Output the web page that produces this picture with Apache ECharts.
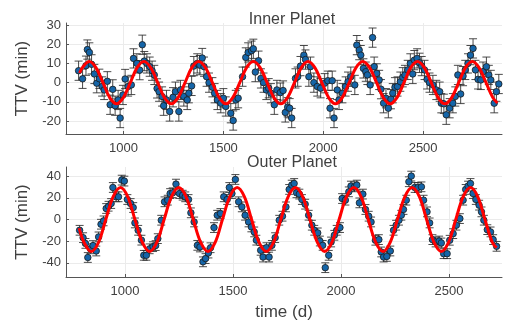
<!DOCTYPE html>
<html>
<head>
<meta charset="utf-8">
<script src="https://cdn.jsdelivr.net/npm/echarts@6/dist/echarts.min.js"></script>
<style>
  html, body {margin: 0; padding: 0; background: #fff;}
  #chart {width: 505px; height: 323px;}
</style>
</head>
<body>
<div id="chart"></div>
<script>
// observed transit timing variations, [time (d), TTV (min)]
const innerPoints = [
  [775,6.2],[795,2],[812,8.8],[819,17.2],[829,15.7],[840,9.5],[854,4.5],[866,-0.3],[879,2],[893,-2],
  [903,-3.8],[919,0.7],[933,-11.5],[946,-3.5],[958,-12],[973,-9],[983,-18.4],[997,-6.4],[1008,1.9],[1023,-2],
  [1039,-1.2],[1050,12.6],[1067,10],[1081,6.5],[1094,19.7],[1104,11.2],[1117,10],[1131,8.3],[1143,6.2],[1154,4],
  [1168,-3],[1178,-4.7],[1193,-7.2],[1201,-12],[1215,-9],[1231,-15],[1248,-7.6],[1260,-4.7],[1277,-15],[1285,-3.8],
  [1302,-7.2],[1319,-9],[1327,-5.5],[1341,-1.7],[1352,8.6],[1369,10],[1382,9.1],[1394,12.8],[1403,8.3],[1416,3.1],
  [1428,0],[1445,-2.4],[1456,-5.5],[1470,-9],[1487,-10.7],[1500,-8.1],[1512,-12.4],[1537,-15.9],[1549,-19.7],[1562,-9],
  [1574,-8.1],[1596,3.1],[1612,13.1],[1624,15.7],[1641,16.6],[1650,17.6],[1660,5.5],[1676,11.4],[1688,2.2],[1701,0],
  [1715,-3.8],[1727,-2.9],[1738,-5.5],[1755,-11.5],[1768,-3.8],[1785,-5.2],[1799,-4.1],[1810,-15.5],[1822,-12.8],[1832,-13.3],
  [1842,-18.4],[1861,2.2],[1872,3.1],[1886,8.6],[1903,14.3],[1911,12],[1928,3.1],[1936,8.3],[1953,0],[1970,-2],
  [1987,-2.9],[2007,-0.3],[2023,1],[2034,-13.3],[2045,1],[2054,-18.4],[2070,-3.8],[2079,-9],[2096,-5.5],[2112,-2],
  [2124,0.5],[2138,3.1],[2158,-1.2],[2168,19.5],[2180,16.9],[2188,14.3],[2201,7.4],[2213,5.7],[2221,4],[2235,-1.2],
  [2247,23.4],[2255,8.3],[2268,4.8],[2280,1.4],[2289,-3.4],[2302,-10.7],[2314,-8.1],[2326,-13.3],[2339,-8.6],[2348,-5.5],
  [2359,-2.4],[2372,-2],[2386,0.5],[2398,2.8],[2409,4],[2423,6.6],[2436,10],[2448,4.5],[2456,11.7],[2470,12.6],
  [2482,10.3],[2493,8.6],[2507,6.6],[2520,1.7],[2532,0],[2549,-1.2],[2566,-3.8],[2583,-4.7],[2591,-10.7],[2604,-11],
  [2616,-16.7],[2633,-13.3],[2649,-10.7],[2661,-7.2],[2674,4],[2688,-5.9],[2700,3.4],[2711,6.6],[2725,10],[2737,14.3],
  [2750,17.8],[2762,6.6],[2775,1.7],[2789,1.4],[2800,5.7],[2817,8.3],[2829,4],[2839,1.4],[2856,-10.7],[2867,-4.7],
  [2879,-0.7]
];
const innerErr = 5;

const outerPoints = [
  [790,-9.9],[806,-16.7],[817,-22],[828,-35],[840,-27],[852,-24],[867,-29],[878,-16],[889,-4.3],[901,-1.2],
  [913,10.2],[924,12.3],[936,14.8],[944,29.6],[959,21],[970,21],[985,36.4],[997,35.5],[1011,18.5],[1026,14.8],
  [1038,11.1],[1046,-3.1],[1061,-9.9],[1076,-19],[1087,-33],[1099,-33],[1114,-27],[1130,-25],[1142,-24],[1152,-17.6],
  [1168,-0.6],[1183,16.4],[1198,17.9],[1209,24],[1221,24.7],[1236,32.7],[1252,24],[1267,22.5],[1279,21],[1294,18.5],
  [1305,6.2],[1320,-2.2],[1335,-23.8],[1347,-25.3],[1361,-39],[1373,-36],[1386,-30.9],[1396,-26],[1412,-7.4],[1427,4],
  [1442,5.6],[1457,21],[1473,18.5],[1483,29.6],[1495,24],[1511,37],[1526,16.4],[1541,11.7],[1556,4],[1572,-2.2],
  [1585,-6.8],[1598,-11.4],[1608,-19],[1628,-28.4],[1639,-34.6],[1655,-25.9],[1667,-34.6],[1680,-23.8],[1695,-16.7],[1714,-0.6],
  [1729,3.1],[1745,11.7],[1760,27.8],[1772,31.8],[1783,33.3],[1794,24.7],[1807,23.5],[1819,18.5],[1834,14.2],[1850,4],
  [1865,-5.2],[1876,-9.9],[1892,-12.3],[1902,-19.8],[1915,-23.8],[1927,-44.4],[1943,-33],[1954,-20.7],[1969,-14.5],[1980,-9.9],
  [1995,-7.4],[2005,19.4],[2020,17.9],[2036,25.6],[2046,30.9],[2062,30.2],[2073,31.8],[2085,15.4],[2101,23.5],[2113,9.3],
  [2128,3.1],[2139,-2.2],[2159,-19.1],[2175,-18.5],[2186,-29.9],[2197,-34.6],[2212,-34],[2228,-29],[2243,-9.9],[2255,-5.2],
  [2268,-0.6],[2279,4],[2289,9.3],[2302,17.9],[2314,34.9],[2325,40.1],[2341,29.6],[2356,29.6],[2372,30.2],[2382,17.9],
  [2398,7.1],[2410,-3.1],[2423,-18.5],[2438,-20.7],[2454,-19.8],[2464,-21.6],[2475,-31.5],[2491,-31.5],[2503,-19.1],[2519,-13],
  [2534,-5.2],[2550,0.9],[2565,17.9],[2577,27.8],[2588,30.9],[2599,33.3],[2611,24],[2624,18.5],[2639,13.3],[2650,7.1],
  [2661,-0.6],[2677,-9.3],[2692,-11.4],[2704,-18.5],[2720,-24.7]
];
const outerErr = 4.5;

// best-fit curves
const innerFit = [
  [780,5],[794,7.8],[828,11],[862,7.8],[897,0],[931,-7.8],[965,-11],[999,-7.8],[1034,0],[1068,7.8],
  [1102,11],[1136,7.8],[1171,0],[1205,-7.8],[1239,-11],[1273,-7.8],[1308,0],[1342,7.8],[1376,11],[1410,7.8],
  [1445,0],[1479,-7.8],[1513,-11],[1547,-7.8],[1582,0],[1616,7.8],[1650,11],[1684,7.8],[1719,0],[1753,-7.8],
  [1787,-11],[1821,-7.8],[1856,0],[1890,7.8],[1924,11],[1958,7.8],[1993,0],[2027,-7.8],[2061,-11],[2095,-7.8],
  [2130,0],[2164,7.8],[2198,11],[2232,7.8],[2267,0],[2301,-7.8],[2335,-11],[2369,-7.8],[2404,0],[2438,7.8],
  [2472,11],[2506,7.8],[2541,0],[2575,-7.8],[2609,-11],[2643,-7.8],[2678,0],[2712,7.8],[2746,11],[2780,7.8],
  [2815,0],[2849,-7.8],[2872,-10.6]
];
const outerFit = [
  [788,-8],[810,-20.9],[844,-29.5],[878,-20.9],[911,0],[945,20.9],[979,29.5],[1013,20.9],[1046,0],[1080,-20.9],
  [1114,-29.5],[1148,-20.9],[1181,0],[1215,20.9],[1249,29.5],[1283,20.9],[1316,0],[1350,-20.9],[1384,-29.5],[1418,-20.9],
  [1451,0],[1485,20.9],[1519,29.5],[1553,20.9],[1586,0],[1620,-20.9],[1654,-29.5],[1688,-20.9],[1721,0],[1755,20.9],
  [1789,29.5],[1823,20.9],[1856,0],[1890,-20.9],[1924,-29.5],[1958,-20.9],[1991,0],[2025,20.9],[2059,29.5],[2093,20.9],
  [2126,0],[2160,-20.9],[2194,-29.5],[2228,-20.9],[2261,0],[2295,20.9],[2329,29.5],[2363,20.9],[2396,0],[2430,-20.9],
  [2464,-29.5],[2498,-20.9],[2531,0],[2565,20.9],[2599,29.5],[2633,20.9],[2666,0],[2700,-20.9],[2720,-26]
];

const timeTicks = [1000, 1500, 2000, 2500];
const innerTicks = [-20, -10, 0, 10, 20, 30];
const outerTicks = [-40, -20, 0, 20, 40];

const FONT = 'Liberation Sans';
const textColor = '#404040';

const chart = echarts.init(document.getElementById('chart'), null, {renderer: 'canvas'});

function errorBars(params, api) {
  const x = api.value(0);
  const top = api.coord([x, api.value(2)]);
  const bot = api.coord([x, api.value(1)]);
  const w = 4;
  const style = {stroke: '#2b2b2b', lineWidth: 1, opacity: 0.85};
  return {
    type: 'group',
    children: [
      {type: 'line', shape: {x1: top[0], y1: top[1], x2: bot[0], y2: bot[1]}, style},
      {type: 'line', shape: {x1: top[0] - w, y1: top[1], x2: top[0] + w, y2: top[1]}, style},
      {type: 'line', shape: {x1: bot[0] - w, y1: bot[1], x2: bot[0] + w, y2: bot[1]}, style}
    ]
  };
}

const plain = v => String(v);

function xAxis(idx, min, max) {
  return {
    type: 'value', gridIndex: idx, min, max,
    name: idx === 1 ? 'time (d)' : '',
    nameLocation: 'middle', nameGap: 27,
    nameTextStyle: {fontFamily: FONT, fontSize: 17, color: textColor},
    axisLine: {show: true, onZero: false, lineStyle: {color: '#555', width: 1}},
    axisTick: {show: true, inside: true, length: 3, customValues: timeTicks, lineStyle: {color: '#555'}},
    axisLabel: {customValues: timeTicks, formatter: plain, margin: 8, fontFamily: FONT, fontSize: 13, color: textColor},
    splitLine: {show: true, lineStyle: {color: '#ebebeb', width: 1}}
  };
}

function yAxis(idx, min, max, ticks) {
  return {
    type: 'value', gridIndex: idx, min, max,
    name: 'TTV (min)', nameLocation: 'middle', nameGap: 34,
    nameTextStyle: {fontFamily: FONT, fontSize: 17, color: textColor},
    axisLine: {show: true, lineStyle: {color: '#555', width: 1}},
    axisTick: {show: true, inside: true, length: 3, customValues: ticks, lineStyle: {color: '#555'}},
    axisLabel: {customValues: ticks, formatter: plain, margin: 5, fontFamily: FONT, fontSize: 13, color: textColor},
    splitLine: {show: true, lineStyle: {color: '#ebebeb', width: 1}}
  };
}

const pointStyle = {color: '#1565a8', borderColor: '#1a1a1a', borderWidth: 0.8, opacity: 1};

chart.setOption({
  animation: false,
  title: [
    {text: 'Inner Planet', left: 287, top: 7, textAlign: 'center',
      textStyle: {fontFamily: FONT, fontSize: 16, fontWeight: 'normal', color: textColor}},
    {text: 'Outer Planet', left: 287, top: 150, textAlign: 'center',
      textStyle: {fontFamily: FONT, fontSize: 16, fontWeight: 'normal', color: textColor}}
  ],
  grid: [
    {left: 66, right: 3, top: 23, height: 111},
    {left: 66, right: 3, top: 167, height: 110}
  ],
  xAxis: [xAxis(0, 712, 2895), xAxis(1, 727, 2745)],
  yAxis: [yAxis(0, -26.7, 31, innerTicks), yAxis(1, -53, 48.5, outerTicks)],
  series: [
    {type: 'custom', xAxisIndex: 0, yAxisIndex: 0, renderItem: errorBars, z: 1,
      data: innerPoints.map(p => [p[0], p[1] - innerErr, p[1] + innerErr])},
    {type: 'scatter', xAxisIndex: 0, yAxisIndex: 0, symbolSize: 6.5, z: 2,
      itemStyle: pointStyle, data: innerPoints},
    {type: 'line', xAxisIndex: 0, yAxisIndex: 0, smooth: 0.35, showSymbol: false, z: 3,
      lineStyle: {color: '#ff0000', width: 3}, data: innerFit},
    {type: 'custom', xAxisIndex: 1, yAxisIndex: 1, renderItem: errorBars, z: 1,
      data: outerPoints.map(p => [p[0], p[1] - outerErr, p[1] + outerErr])},
    {type: 'scatter', xAxisIndex: 1, yAxisIndex: 1, symbolSize: 6.5, z: 2,
      itemStyle: pointStyle, data: outerPoints},
    {type: 'line', xAxisIndex: 1, yAxisIndex: 1, smooth: 0.35, showSymbol: false, z: 3,
      lineStyle: {color: '#ff0000', width: 3}, data: outerFit}
  ]
});
</script>
</body>
</html>
